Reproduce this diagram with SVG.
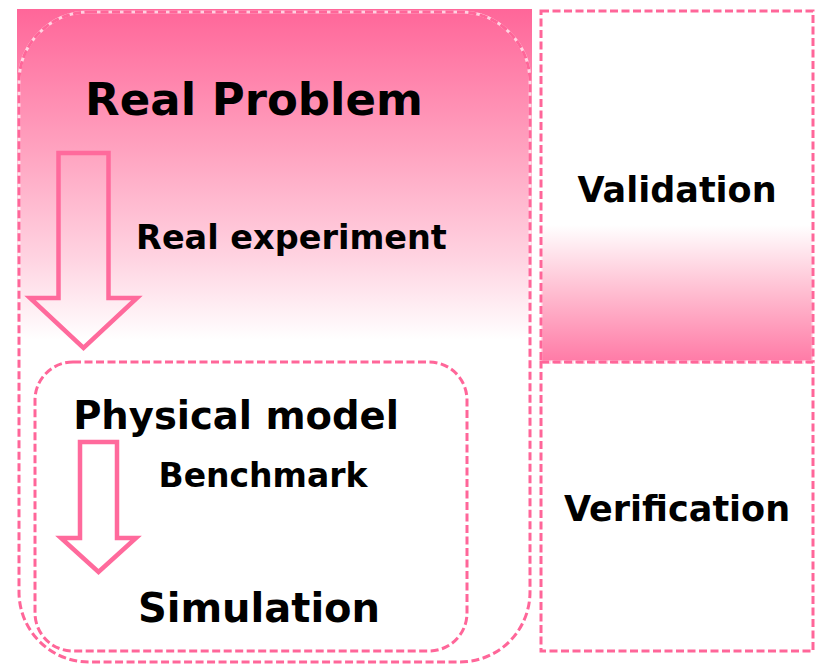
<svg xmlns="http://www.w3.org/2000/svg" width="815" height="665" viewBox="0 0 815 665">
  <defs>
    <linearGradient id="gradTop" x1="0" y1="9" x2="0" y2="340" gradientUnits="userSpaceOnUse">
      <stop offset="0" stop-color="#ff6699"/>
      <stop offset="0.45" stop-color="#ffa6c2"/>
      <stop offset="0.75" stop-color="#ffd3e1"/>
      <stop offset="1" stop-color="#ffffff"/>
    </linearGradient>
    <linearGradient id="gradVal" x1="0" y1="225" x2="0" y2="362" gradientUnits="userSpaceOnUse">
      <stop offset="0" stop-color="#ffffff"/>
      <stop offset="0.5" stop-color="#ffbcd0"/>
      <stop offset="1" stop-color="#ff7aa6"/>
    </linearGradient>
  </defs>
  <style>
    .under { fill: none; stroke: #ffffff; stroke-opacity: 0.7; stroke-width: 3; }
    .dash { fill: none; stroke: #ff6699; stroke-width: 3; stroke-dasharray: 8 3.5; }
    .arrow { fill: none; stroke: #ff6a9c; stroke-width: 4.5; stroke-linejoin: miter; }
    .label { font-family: "DejaVu Sans", Verdana, sans-serif; font-weight: bold; fill: #000000; text-anchor: middle; }
  </style>

  <rect width="815" height="665" fill="#ffffff"/>

  <!-- shaded backdrop for the problem area -->
  <rect x="17" y="9" width="515" height="331" fill="url(#gradTop)"/>

  <!-- Real Problem container -->
  <g id="real-problem">
    <rect class="under" x="19" y="12" width="511" height="650" rx="70" ry="70"/>
    <rect class="dash" x="19" y="12" width="511" height="650" rx="70" ry="70"/>
    <text class="label" x="254" y="115" font-size="45">Real Problem</text>
  </g>

  <!-- Physical model container -->
  <g id="physical-model">
    <rect class="under" x="35" y="362" width="432" height="289" rx="38" ry="38"/>
    <rect class="dash" x="35" y="362" width="432" height="289" rx="38" ry="38"/>
    <text class="label" x="236" y="429" font-size="38.5">Physical model</text>
  </g>

  <g id="simulation">
    <text class="label" x="259" y="622" font-size="40">Simulation</text>
  </g>

  <!-- Validation column -->
  <g id="validation">
    <rect x="541" y="11" width="272" height="351" fill="url(#gradVal)"/>
    <rect class="under" x="541" y="11" width="272" height="351"/>
    <rect class="dash" x="541" y="11" width="272" height="351"/>
    <text class="label" x="677" y="202" font-size="35">Validation</text>
  </g>

  <!-- Verification column -->
  <g id="verification">
    <rect class="under" x="541" y="362" width="272" height="289"/>
    <rect class="dash" x="541" y="362" width="272" height="289"/>
    <text class="label" x="677" y="521" font-size="35">Verification</text>
  </g>

  <!-- hollow block arrows -->
  <g id="connectors">
    <g id="real-experiment">
      <path class="arrow" d="M58.5,153 H108.5 V298 H137 L83.5,348 L30,298 H58.5 Z"/>
      <text class="label" x="291.5" y="249" font-size="33.5">Real experiment</text>
    </g>
    <g id="benchmark">
      <path class="arrow" d="M80,442 H117 V538 H136 L98.5,572 L61,538 H80 Z"/>
      <text class="label" x="263" y="487" font-size="33">Benchmark</text>
    </g>
  </g>
</svg>
